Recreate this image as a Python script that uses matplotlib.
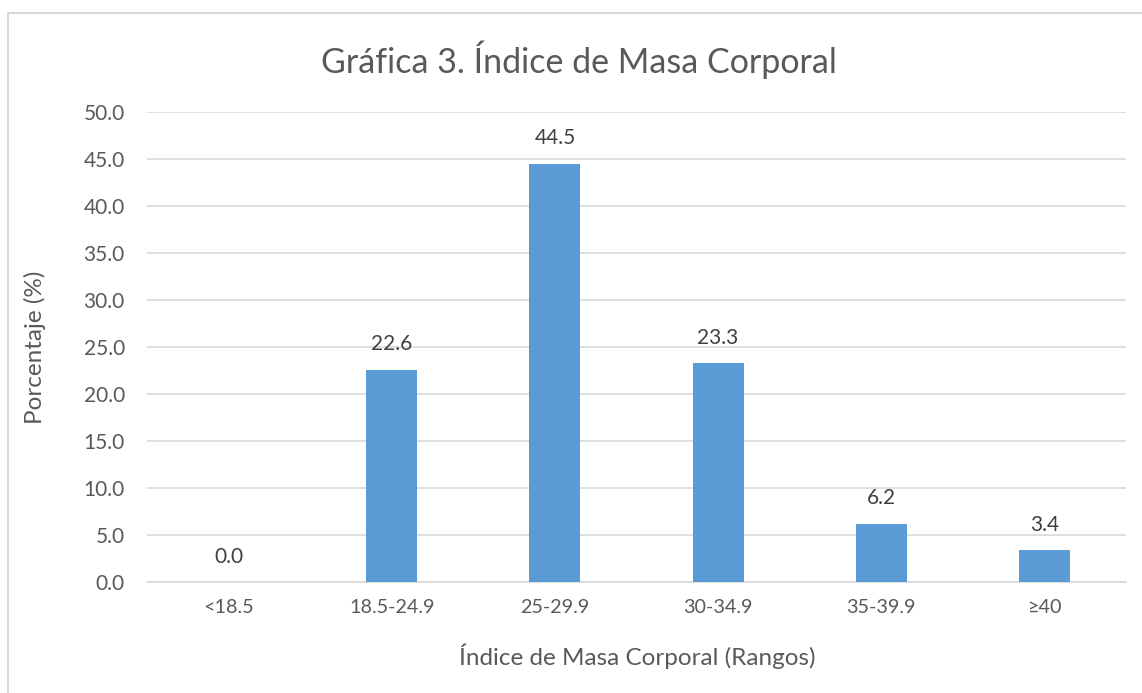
import matplotlib
matplotlib.use("Agg")
import matplotlib.pyplot as plt
from matplotlib.patches import Rectangle

categories = ["<18.5", "18.5-24.9", "25-29.9", "30-34.9", "35-39.9", "≥40"]
values = [0.0, 22.6, 44.5, 23.3, 6.2, 3.4]
yticks = [0, 5, 10, 15, 20, 25, 30, 35, 40, 45, 50]

plt.rcParams['font.family'] = ['Lato', 'DejaVu Sans']
txt = '#595959'
W, H = 1142, 693
fig = plt.figure(figsize=(W/100, H/100), dpi=100)
fig.patches.append(Rectangle((8/W, -0.1), 1.2, (H-13)/H + 0.1, transform=fig.transFigure,
                             fill=False, edgecolor='#d9d9d9', linewidth=1.5))
ax = fig.add_axes([147/W, 1-582/H, (1126-147)/W, (582-112)/H])
x = list(range(len(categories)))
ax.bar(x, values, width=0.3125, color='#5b9bd5', zorder=3)
ax.set_xlim(-0.5, len(categories)-0.5)
ax.set_ylim(0, 50)
ax.set_yticks(yticks)
ax.set_yticklabels([f"{v:.1f}" for v in yticks])
ax.set_xticks(x)
ax.set_xticklabels(categories)
ax.grid(axis='y', color='#d9d9d9', linewidth=1.2, zorder=0)
for s in ['top', 'right', 'left']:
    ax.spines[s].set_visible(False)
ax.spines['bottom'].set_color('#d9d9d9')
ax.spines['bottom'].set_linewidth(1.2)
ax.tick_params(axis='both', length=0, colors=txt)
ax.tick_params(axis='y', pad=16, labelsize=15)
ax.tick_params(axis='x', pad=12, labelsize=14.2)
for xi, v in zip(x, values):
    ax.annotate(f"{v:.1f}", (xi, v), xytext=(0, 11), textcoords='offset points',
                ha='center', va='bottom', color='#404040', fontsize=15)
ax.set_ylabel("Porcentaje (%)", color=txt, fontsize=17.5, va='center')
ax.yaxis.set_label_coords((35-147)/979, 0.5)
ax.set_xlabel("Índice de Masa Corporal (Rangos)", color=txt, fontsize=17.5, va='center')
ax.xaxis.set_label_coords((637-147)/979, (582-656)/470)
fig.text(579/W, 1-60/H, "Gráfica 3. Índice de Masa Corporal",
         ha='center', va='center', color=txt, fontsize=24.5)
fig.savefig("out.png", dpi=100)
